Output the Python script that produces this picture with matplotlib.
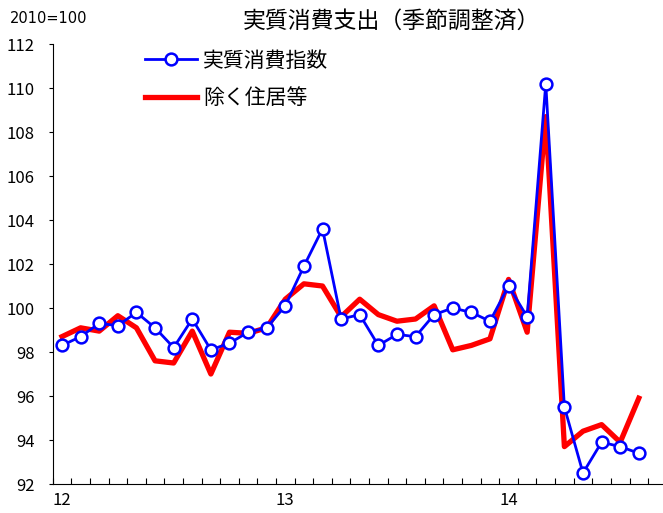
import matplotlib.pyplot as plt
import numpy as np

plt.rcParams['font.family'] = ['Noto Sans CJK JP', 'DejaVu Sans']

# Monthly index, Jan 2012 - Aug 2014 (2010=100)
consumption = [98.3, 98.7, 99.3, 99.2, 99.8, 99.1, 98.2, 99.5, 98.1, 98.4, 98.9, 99.1,
               100.1, 101.9, 103.6, 99.5, 99.7, 98.3, 98.8, 98.7, 99.7, 100.0, 99.8, 99.4,
               101.0, 99.6, 110.2, 95.5, 92.5, 93.9, 93.7, 93.4]
excl_housing = [98.7, 99.1, 98.95, 99.65, 99.1, 97.6, 97.5, 98.95, 97.0, 98.9, 98.85, 99.1,
                100.4, 101.1, 101.0, 99.6, 100.4, 99.7, 99.4, 99.5, 100.1, 98.1, 98.3, 98.6,
                101.3, 98.9, 108.7, 93.7, 94.4, 94.7, 93.9, 95.9]
year_labels = ['12', '13', '14']
series_names = ['実質消費指数', '除く住居等']

x = np.arange(len(consumption)) + 0.5

fig = plt.figure(figsize=(6.63, 5.13), dpi=100)
ax = fig.add_axes([0.0795, 0.0565, 0.9205, 0.8577])

ax.plot(x, consumption, color='#0000ff', lw=2, marker='o', ms=8.5,
        mfc='white', mec='#0000ff', mew=1.8, label=series_names[0], zorder=3)
ax.plot(x, excl_housing, color='#ff0000', lw=3.8, label=series_names[1], zorder=2)

ax.set_xlim(0, 32.8)
ax.set_ylim(92, 112)
ax.set_yticks(np.arange(92, 113, 2))
ax.tick_params(axis='y', direction='out', length=3, labelsize=12, pad=10)

# month boundaries as inward ticks, year labels under January
ax.set_xticks(np.arange(0, 33))
ax.set_xticklabels([])
ax.tick_params(axis='x', which='major', direction='in', length=4)
ax.set_xticks([0.5, 12.5, 24.5], minor=True)
ax.set_xticklabels(year_labels, minor=True)
ax.tick_params(axis='x', which='minor', length=0, labelsize=12, pad=6)

for s in ['top', 'right']:
    ax.spines[s].set_visible(False)

ax.legend(loc='upper left', bbox_to_anchor=(0.12, 1.03), frameon=False,
          fontsize=15, handlelength=2.5, labelspacing=0.75, handletextpad=0.3)

fig.text(0.015, 0.963, '2010=100', fontsize=10.5, va='center', family='DejaVu Sans')
fig.text(0.59, 0.958, '実質消費支出（季節調整済）', fontsize=16.5, ha='center', va='center')

fig.savefig('out.png', dpi=100)
